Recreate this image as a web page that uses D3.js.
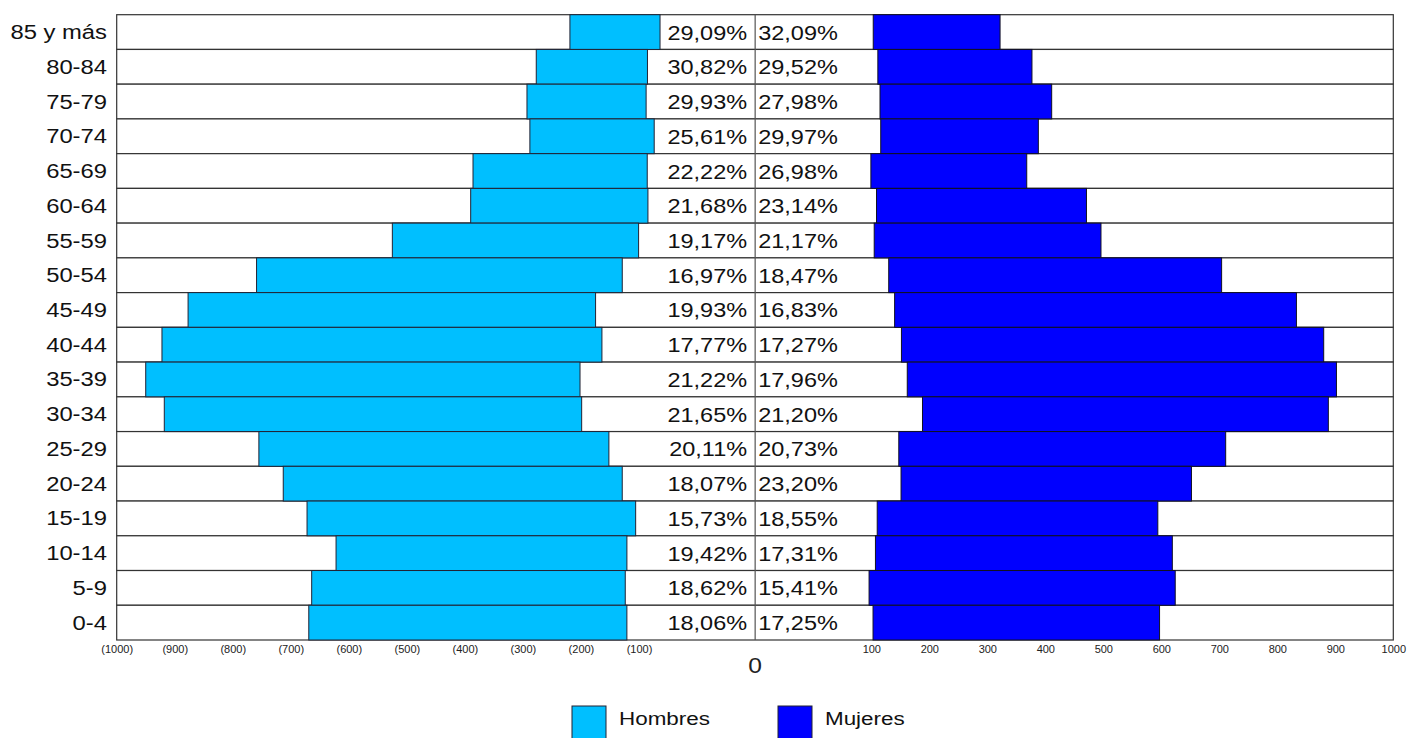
<!DOCTYPE html>
<html lang='es'>

<head>
	<meta charset='UTF-8'/>
	<title>Pirámide de población</title>
	<script src='https://cdnjs.cloudflare.com/ajax/libs/d3/7.8.5/d3.min.js'></script>
	<style>
		body {margin: 0; background: #fff;}
		svg {display: block; font-family: 'Liberation Sans', Arial, sans-serif;}
	</style>
</head>

<body>
	<div class='graph'></div>
	<script>
		// data, top row first
		const AGE_GROUPS = ['85 y más', '80-84', '75-79', '70-74', '65-69', '60-64', '55-59', '50-54', '45-49',
			'40-44', '35-39', '30-34', '25-29', '20-24', '15-19', '10-14', '5-9', '0-4'];
		const HOMBRES = [219, 277, 293, 288, 386, 390, 525, 759, 877, 922, 950, 918, 755, 713, 672, 622, 664, 669];
		const MUJERES = [322, 377, 411, 388, 368, 471, 496, 704, 833, 880, 902, 888, 711, 652, 594, 619, 624, 597];
		const PCT_HOMBRES = [29.09, 30.82, 29.93, 25.61, 22.22, 21.68, 19.17, 16.97, 19.93,
			17.77, 21.22, 21.65, 20.11, 18.07, 15.73, 19.42, 18.62, 18.06];
		const PCT_MUJERES = [32.09, 29.52, 27.98, 29.97, 26.98, 23.14, 21.17, 18.47, 16.83,
			17.27, 17.96, 21.20, 20.73, 23.20, 18.55, 17.31, 15.41, 17.25];
		const TICKS = [100, 200, 300, 400, 500, 600, 700, 800, 900, 1000];
		const LEGEND = ['Hombres', 'Mujeres'];

		var width = 1407;
		var height = 738;
		var stretch = 1.12; // text in the picture is a bit wide
		var colours = {Hombres: '#00bfff', Mujeres: '#0000ff'};

		var rows = AGE_GROUPS.map((g, i) => ({
			group: g,
			men: HOMBRES[i], menPct: PCT_HOMBRES[i],
			women: MUJERES[i], womenPct: PCT_MUJERES[i]
		}));

		var svg = d3.select('.graph')
			.append('svg')
			.attr('width', width)
			.attr('height', height);

		// scales: men grow to the left, women to the right, a label gap in between
		const X_LEFT = d3.scaleLinear().domain([0, 1000]).range([697, 116.7]);
		const X_RIGHT = d3.scaleLinear().domain([0, 1000]).range([813.3, 1393.3]);
		const CENTER = (X_LEFT(0) + X_RIGHT(0)) / 2;
		const Y_SCALE = d3.scaleBand()
			.domain(AGE_GROUPS)
			.range([14.7, 640]);
		var bh = Y_SCALE.bandwidth();

		function pct(v) {
			return v.toFixed(2).replace('.', ',') + '%';
		}

		// row frames
		svg.selectAll('rect.row')
			.data(rows)
			.enter()
			.append('rect')
			.attr('class', 'row')
			.attr('x', X_LEFT(1000))
			.attr('y', d => Y_SCALE(d.group))
			.attr('width', X_RIGHT(1000) - X_LEFT(1000))
			.attr('height', bh)
			.style('fill', '#fff')
			.style('stroke', '#333')
			.style('stroke-width', 1.2);

		// bars (inner share left white)
		svg.selectAll('rect.men')
			.data(rows)
			.enter()
			.append('rect')
			.attr('class', 'men')
			.attr('x', d => X_LEFT(d.men))
			.attr('y', d => Y_SCALE(d.group))
			.attr('width', d => X_LEFT(d.men * d.menPct / 100) - X_LEFT(d.men))
			.attr('height', bh)
			.style('fill', colours.Hombres)
			.style('stroke', '#223')
			.style('stroke-width', 1);

		svg.selectAll('rect.women')
			.data(rows)
			.enter()
			.append('rect')
			.attr('class', 'women')
			.attr('x', d => X_RIGHT(d.women * d.womenPct / 100))
			.attr('y', d => Y_SCALE(d.group))
			.attr('width', d => X_RIGHT(d.women) - X_RIGHT(d.women * d.womenPct / 100))
			.attr('height', bh)
			.style('fill', colours.Mujeres)
			.style('stroke', '#112')
			.style('stroke-width', 1);

		// centre divider
		svg.append('line')
			.attr('x1', CENTER).attr('x2', CENTER)
			.attr('y1', Y_SCALE.range()[0]).attr('y2', Y_SCALE.range()[1])
			.style('stroke', '#555')
			.style('stroke-width', 1.2);

		// percentage labels
		svg.selectAll('text.pm')
			.data(rows)
			.enter()
			.append('text')
			.attr('class', 'pm')
			.attr('transform', d => 'translate(' + (CENTER - 8) + ',' + (Y_SCALE(d.group) + bh / 2 + 7.5) + ') scale(' + stretch + ',1)')
			.attr('text-anchor', 'end')
			.style('font-size', '21px')
			.style('fill', '#111')
			.text(d => pct(d.menPct));

		svg.selectAll('text.pw')
			.data(rows)
			.enter()
			.append('text')
			.attr('class', 'pw')
			.attr('transform', d => 'translate(' + (CENTER + 3) + ',' + (Y_SCALE(d.group) + bh / 2 + 7.5) + ') scale(' + stretch + ',1)')
			.attr('text-anchor', 'start')
			.style('font-size', '21px')
			.style('fill', '#111')
			.text(d => pct(d.womenPct));

		// age labels
		svg.selectAll('text.age')
			.data(rows)
			.enter()
			.append('text')
			.attr('class', 'age')
			.attr('transform', d => 'translate(107,' + (Y_SCALE(d.group) + bh / 2 + 7) + ') scale(1.19,1)')
			.attr('text-anchor', 'end')
			.style('font-size', '20px')
			.style('fill', '#111')
			.text(d => d.group);

		// x axes
		var axisY = Y_SCALE.range()[1];
		svg.append('g')
			.attr('transform', 'translate(0,' + axisY + ')')
			.call(d3.axisBottom(X_LEFT).tickValues(TICKS).tickSize(0).tickPadding(5)
				.tickFormat(d => '(' + d + ')'))
			.call(g => g.select('.domain').remove())
			.selectAll('text')
			.style('font-size', '11px')
			.style('font-family', "'Liberation Sans', Arial, sans-serif")
			.style('fill', '#222');
		svg.append('g')
			.attr('transform', 'translate(0,' + axisY + ')')
			.call(d3.axisBottom(X_RIGHT).tickValues(TICKS).tickSize(0).tickPadding(5)
				.tickFormat(d => String(d)))
			.call(g => g.select('.domain').remove())
			.selectAll('text')
			.style('font-size', '11px')
			.style('font-family', "'Liberation Sans', Arial, sans-serif")
			.style('fill', '#222');
		svg.append('text')
			.attr('transform', 'translate(' + CENTER + ',' + (axisY + 33) + ') scale(' + stretch + ',1)')
			.attr('text-anchor', 'middle')
			.style('font-size', '22px')
			.style('fill', '#222')
			.text('0');

		// legend
		var legendX = [572, 778];
		var legend = svg.selectAll('g.legend')
			.data(LEGEND)
			.enter()
			.append('g')
			.attr('class', 'legend')
			.attr('transform', (d, i) => 'translate(' + legendX[i] + ',706)');
		legend.append('rect')
			.attr('width', 34)
			.attr('height', 36)
			.style('fill', d => colours[d])
			.style('stroke', '#223')
			.style('stroke-width', 1);
		legend.append('text')
			.attr('transform', 'translate(47,19) scale(1.18,1)')
			.style('font-size', '19px')
			.style('fill', '#111')
			.text(d => d);
	</script>
</body>

</html>
